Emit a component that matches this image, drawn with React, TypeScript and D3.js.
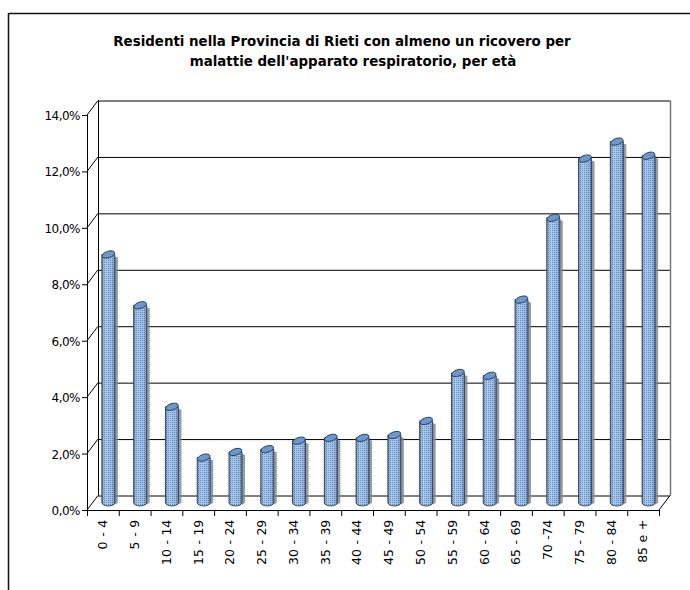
import React from "react";
import * as d3 from "d3";

const categories = ["0 - 4", "5 - 9", "10 - 14", "15 - 19", "20 - 24", "25 - 29", "30 - 34", "35 - 39", "40 - 44", "45 - 49", "50 - 54", "55 - 59", "60 - 64", "65 - 69", "70 -74", "75 - 79", "80 - 84", "85 e +"];
const values = [8.8, 7.0, 3.4, 1.6, 1.8, 1.9, 2.2, 2.3, 2.3, 2.4, 2.9, 4.6, 4.5, 7.2, 10.1, 12.2, 12.8, 12.3];
const yTicks = [0, 2, 4, 6, 8, 10, 12, 14];
const titleLines = ["Residenti nella Provincia di Rieti con almeno un ricovero per", "malattie dell'apparato respiratorio, per età"];

const W = 690, H = 590;
const DX = 11, DY = 14.5;
const x = d3.scaleBand<string>().domain(categories).range([87, 659]).padding(0);
const y = d3.scaleLinear().domain([0, 14]).range([510, 115]);
const fmt = (v: number) => d3.format(".1f")(v).replace(".", ",") + "%";

export default function App() {
  const bw = x.bandwidth();
  const barW = 13;
  const rx = barW / 2, ry = 3.2;
  const x0 = 87, x1 = 659;
  return (
    <svg width={W} height={H} style={{ position: "absolute", left: 0, top: 0, display: "block", background: "#fff" }}>
      <defs>
        <pattern id="dots" width="2" height="2" patternUnits="userSpaceOnUse">
          <rect width="2" height="2" fill="#9ec3ef" />
          <rect width="1" height="1" fill="#5a7fb3" />
        </pattern>
        <linearGradient id="shade" x1="0" x2="1" y1="0" y2="0">
          <stop offset="0" stopColor="#000" stopOpacity="0.25" />
          <stop offset="0.3" stopColor="#fff" stopOpacity="0.15" />
          <stop offset="0.6" stopColor="#fff" stopOpacity="0.0" />
          <stop offset="1" stopColor="#000" stopOpacity="0.35" />
        </linearGradient>
      </defs>
      {/* outer frame */}
      <line x1={8.5} y1={13.5} x2={W} y2={13.5} stroke="#111" strokeWidth={1.5} />
      <line x1={8.5} y1={13} x2={8.5} y2={H} stroke="#111" strokeWidth={1.5} />
      {/* title */}
      <g fontFamily="'DejaVu Sans', sans-serif" fontWeight="bold" fontSize={13.4} fill="#000" textAnchor="middle">
        <text x={342} y={46}>{titleLines[0]}</text>
        <text x={353} y={66}>{titleLines[1]}</text>
      </g>
      {/* back wall gridlines */}
      {yTicks.map((t) => (
        <line key={"g" + t} x1={x0 + DX} x2={x1 + DX} y1={y(t) - DY + 0.5} y2={y(t) - DY + 0.5} stroke="#000" strokeWidth={1} />
      ))}
      <line x1={x1 + DX + 0.5} x2={x1 + DX + 0.5} y1={y(14) - DY} y2={y(0) - DY} stroke="#777" strokeWidth={1.5} />
      {/* left wall */}
      <line x1={x0 + DX + 0.5} x2={x0 + DX + 0.5} y1={y(14) - DY} y2={y(0) - DY} stroke="#000" />
      {yTicks.map((t) => (
        <line key={"d" + t} x1={x0} y1={y(t)} x2={x0 + DX} y2={y(t) - DY} stroke="#000" />
      ))}
      {/* floor */}
      <line x1={x1} y1={y(0)} x2={x1 + DX} y2={y(0) - DY} stroke="#000" />
      {/* bars */}
      {values.map((v, i) => {
        const cx = (x(categories[i]) as number) + bw / 2 + DX / 2;
        const yb = y(0) - DY / 2;
        const yt = y(v) - DY / 2;
        const l = cx - rx, r = cx + rx;
        const body = `M${l},${yt} L${l},${yb} A${rx},${ry} 0 0 0 ${r},${yb} L${r},${yt} Z`;
        return (
          <g key={"b" + i}>
            <path d={`M${r},${yt + 2} L${r + 3},${yt + 3} L${r + 3},${yb} L${r},${yb + 2} Z`} fill="#8a8a8a" opacity={0.85} />
            <path d={body} fill="url(#dots)" />
            <path d={body} fill="url(#shade)" stroke="#22405f" strokeWidth={0.9} />
            <ellipse cx={cx} cy={yt} rx={rx} ry={ry} transform={`rotate(-18 ${cx} ${yt})`} fill="#7097c9" stroke="#22405f" strokeWidth={0.9} />
          </g>
        );
      })}
      {/* front axes */}
      <line x1={x0 + 0.5} x2={x0 + 0.5} y1={y(14)} y2={y(0)} stroke="#000" />
      <line x1={x0} x2={x1} y1={y(0) + 0.5} y2={y(0) + 0.5} stroke="#000" />
      {yTicks.map((t) => (
        <g key={"yt" + t}>
          <line x1={x0 - 5} x2={x0} y1={y(t) + 0.5} y2={y(t) + 0.5} stroke="#000" />
          <text x={x0 - 7} y={y(t) + 5} textAnchor="end" fontFamily="'DejaVu Sans', sans-serif" fontSize={12} style={{ letterSpacing: "-0.5px" }} fill="#000">{fmt(t)}</text>
        </g>
      ))}
      {d3.range(categories.length + 1).map((i) => {
        const xx = x0 + i * bw;
        return <line key={"xt" + i} x1={xx + 0.5} x2={xx + 0.5} y1={y(0)} y2={y(0) + 6} stroke="#000" />;
      })}
      {categories.map((c) => {
        const cx = (x(c) as number) + bw / 2;
        return (
          <text key={"xl" + c} transform={`translate(${cx},${y(0) + 10}) rotate(-90)`} textAnchor="end" dy="0.35em" fontFamily="'DejaVu Sans', sans-serif" fontSize={12.5} style={{ wordSpacing: "1px", letterSpacing: "-0.2px" }} fill="#000">{c}</text>
        );
      })}
    </svg>
  );
}
